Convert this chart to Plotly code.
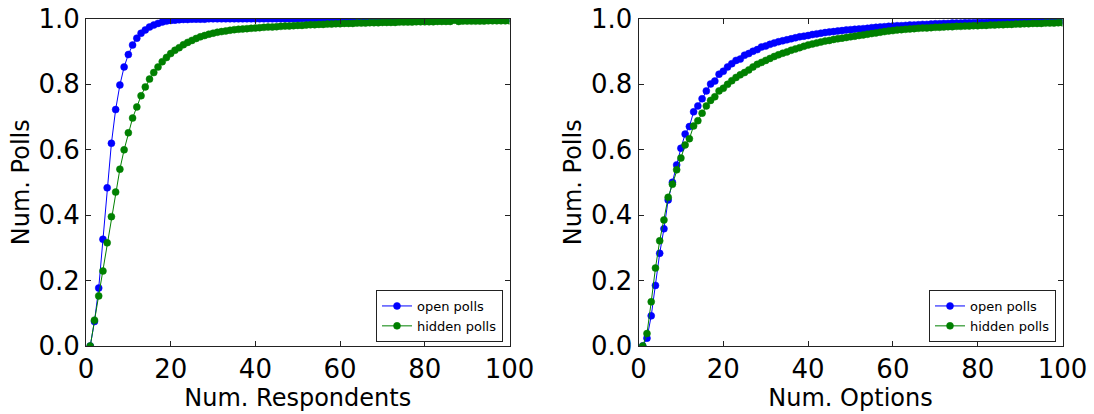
import plotly.graph_objects as go

num = list(range(1, 101))

resp_open = [
    0.000, 0.075, 0.177, 0.326, 0.483, 0.619, 0.722, 0.797, 0.852, 0.890,
    0.919, 0.940, 0.955, 0.965, 0.974, 0.980, 0.985, 0.989, 0.992, 0.994,
    0.995, 0.996, 0.997, 0.997, 0.998, 0.998, 0.998, 0.998, 0.999, 0.999,
    0.999, 0.999, 0.999, 0.999, 0.999, 0.999, 0.999, 0.999, 0.999, 0.999,
    0.999, 0.999, 0.999, 0.999, 0.999, 0.999, 0.999, 0.999, 0.999, 0.999,
    1.000, 1.000, 1.000, 1.000, 1.000, 1.000, 1.000, 1.000, 1.000, 1.000,
    1.000, 1.000, 1.000, 1.000, 1.000, 1.000, 1.000, 1.000, 1.000, 1.000,
    1.000, 1.000, 1.000, 1.000, 1.000, 1.000, 1.000, 1.000, 1.000, 1.000,
    1.000, 1.000, 1.000, 1.000, 1.000, 1.000, 1.000, 1.000, 1.000, 1.000,
    1.000, 1.000, 1.000, 1.000, 1.000, 1.000, 1.000, 1.000, 1.000, 1.000,
]

resp_hidden = [
    0.000, 0.079, 0.153, 0.229, 0.315, 0.395, 0.470, 0.540, 0.599, 0.651,
    0.696, 0.730, 0.764, 0.791, 0.815, 0.835, 0.852, 0.868, 0.881, 0.893,
    0.903, 0.911, 0.920, 0.927, 0.933, 0.939, 0.944, 0.948, 0.952, 0.955,
    0.958, 0.960, 0.962, 0.964, 0.966, 0.967, 0.968, 0.969, 0.970, 0.971,
    0.972, 0.973, 0.974, 0.974, 0.975, 0.976, 0.977, 0.977, 0.978, 0.979,
    0.979, 0.980, 0.981, 0.981, 0.982, 0.982, 0.983, 0.983, 0.984, 0.984,
    0.985, 0.985, 0.985, 0.986, 0.986, 0.986, 0.987, 0.987, 0.987, 0.988,
    0.988, 0.988, 0.988, 0.989, 0.989, 0.989, 0.989, 0.990, 0.990, 0.990,
    0.990, 0.990, 0.991, 0.991, 0.991, 0.991, 0.995, 0.991, 0.992, 0.992,
    0.992, 0.992, 0.992, 0.992, 0.993, 0.993, 0.993, 0.993, 0.993, 0.993,
]

opt_open = [
    0.000, 0.024, 0.092, 0.185, 0.283, 0.358, 0.446, 0.500, 0.553, 0.604,
    0.647, 0.670, 0.715, 0.733, 0.755, 0.779, 0.800, 0.809, 0.830, 0.839,
    0.852, 0.862, 0.872, 0.876, 0.888, 0.893, 0.900, 0.905, 0.913, 0.916,
    0.921, 0.925, 0.929, 0.932, 0.935, 0.938, 0.941, 0.944, 0.946, 0.948,
    0.951, 0.953, 0.955, 0.957, 0.959, 0.960, 0.962, 0.963, 0.965, 0.966,
    0.967, 0.968, 0.969, 0.970, 0.972, 0.973, 0.974, 0.975, 0.976, 0.977,
    0.978, 0.978, 0.979, 0.980, 0.980, 0.981, 0.982, 0.982, 0.983, 0.984,
    0.984, 0.985, 0.985, 0.986, 0.986, 0.986, 0.987, 0.987, 0.987, 0.988,
    0.988, 0.988, 0.989, 0.989, 0.989, 0.990, 0.990, 0.990, 0.990, 0.991,
    0.991, 0.991, 0.991, 0.992, 0.992, 0.992, 0.992, 0.993, 0.993, 0.993,
]

opt_hidden = [
    0.000, 0.038, 0.135, 0.238, 0.321, 0.385, 0.454, 0.494, 0.538, 0.574,
    0.614, 0.633, 0.672, 0.688, 0.711, 0.733, 0.750, 0.761, 0.779, 0.787,
    0.799, 0.810, 0.820, 0.828, 0.835, 0.843, 0.852, 0.860, 0.866, 0.872,
    0.878, 0.884, 0.889, 0.894, 0.898, 0.903, 0.907, 0.911, 0.915, 0.919,
    0.922, 0.925, 0.928, 0.931, 0.933, 0.936, 0.938, 0.940, 0.942, 0.944,
    0.946, 0.948, 0.950, 0.952, 0.954, 0.956, 0.958, 0.960, 0.962, 0.963,
    0.965, 0.966, 0.967, 0.968, 0.969, 0.970, 0.971, 0.971, 0.972, 0.973,
    0.973, 0.974, 0.975, 0.975, 0.976, 0.976, 0.977, 0.977, 0.978, 0.978,
    0.979, 0.979, 0.980, 0.980, 0.981, 0.981, 0.982, 0.982, 0.983, 0.983,
    0.984, 0.984, 0.985, 0.985, 0.985, 0.986, 0.986, 0.986, 0.987, 0.987,
]

x_ticks = [0, 20, 40, 60, 80, 100]
y_ticks = [0.0, 0.2, 0.4, 0.6, 0.8, 1.0]
series_names = ["open polls", "hidden polls"]
x_titles = ["Num. Respondents", "Num. Options"]
y_title = "Num. Polls"

BLUE = "#0000ff"
GREEN = "#008000"
W, H = 1094, 414
FONT = "DejaVu Sans"

fig = go.Figure()


def add_pair(xa, ya, legend, open_vals, hidden_vals):
    for name, vals, col in [(series_names[0], open_vals, BLUE),
                            (series_names[1], hidden_vals, GREEN)]:
        fig.add_trace(go.Scatter(
            x=num, y=vals, name=name, mode="lines+markers",
            xaxis=xa, yaxis=ya, legend=legend,
            line=dict(color=col, width=1),
            marker=dict(color=col, size=7, line=dict(color=col, width=0.5)),
        ))


add_pair("x", "y", "legend", resp_open, resp_hidden)
add_pair("x2", "y2", "legend2", opt_open, opt_hidden)

top, bottom = 18.5, 346
ydom = [(H - bottom) / H, (H - top) / H]
left_dom = [86 / W, 509.5 / W]
right_dom = [638.5 / W, 1062.5 / W]

axis_common = dict(
    showline=True, linecolor="#222222", linewidth=1, mirror="ticks",
    ticks="inside", ticklen=5, tickcolor="#222222", tickwidth=1,
    showgrid=False, zeroline=False, automargin=False,
    tickfont=dict(family=FONT, size=26, color="black"),
)

layout_axes = {}
for i, (dom, xt) in enumerate([(left_dom, x_titles[0]), (right_dom, x_titles[1])]):
    sfx = "" if i == 0 else str(i + 1)
    layout_axes["xaxis" + sfx] = dict(
        axis_common, domain=dom, range=[0, 100], tickvals=x_ticks,
        ticktext=[str(v) for v in x_ticks],
        anchor="y" + sfx,
        title=dict(text=xt, font=dict(family=FONT, size=24, color="black"), standoff=0),
    )
    layout_axes["yaxis" + sfx] = dict(
        axis_common, domain=ydom, range=[0, 1], tickvals=y_ticks,
        ticktext=["%.1f" % v for v in y_ticks],
        anchor="x" + sfx,
        title=dict(text=y_title, font=dict(family=FONT, size=24, color="black"), standoff=2),
    )

legend_common = dict(
    bgcolor="white", bordercolor="#222222", borderwidth=1,
    font=dict(family=FONT, size=13, color="black"),
    xanchor="right", yanchor="bottom", tracegroupgap=0,
    itemwidth=30,
)

fig.update_layout(
    width=W, height=H,
    margin=dict(l=0, r=0, t=0, b=0, autoexpand=False),
    paper_bgcolor="white", plot_bgcolor="white",
    font=dict(family=FONT, color="black"),
    legend=dict(legend_common, x=503 / W, y=(H - 342) / H),
    legend2=dict(legend_common, x=1056 / W, y=(H - 342) / H),
    **layout_axes,
)

fig.write_html(
    "out.html",
    config={"displayModeBar": False},
    post_script="document.body.style.margin='0px';document.body.style.padding='0px';document.body.style.overflow='hidden';",
)
